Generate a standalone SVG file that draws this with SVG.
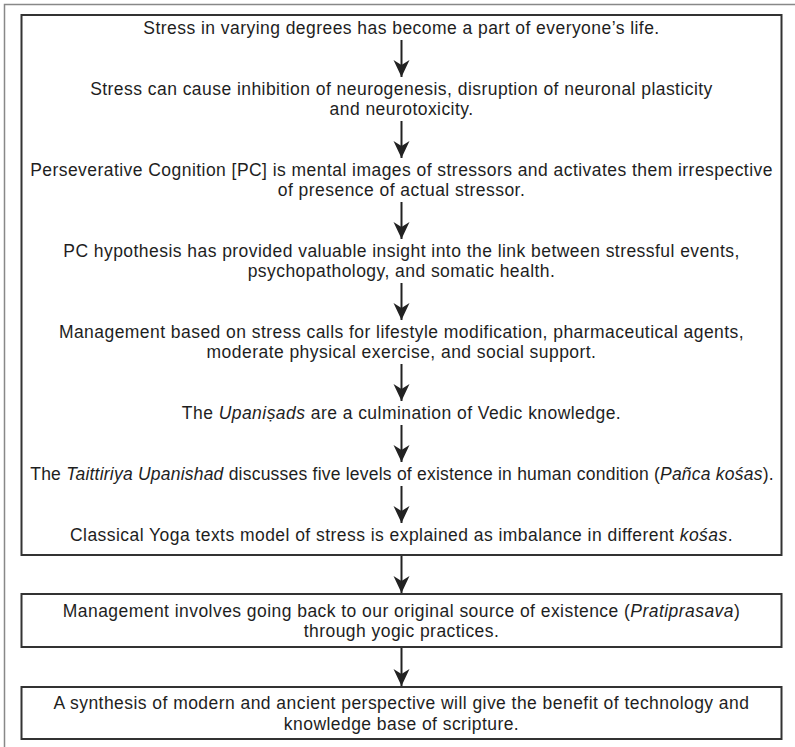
<svg xmlns="http://www.w3.org/2000/svg" width="795" height="747" viewBox="0 0 795 747">
<defs>
<style>
text{font-family:"Liberation Sans",Arial,sans-serif;font-size:17.5px;letter-spacing:0.45px;fill:#1e1e1e;text-anchor:middle}
.box{fill:#fff;stroke:#333;stroke-width:2}
.frame{fill:none;stroke:#888;stroke-width:1.5}
.arr{stroke:#222;stroke-width:2;fill:none;marker-end:url(#ah)}
.i{font-style:italic}
.tight{letter-spacing:0.22px}
</style>
<marker id="ah" markerUnits="userSpaceOnUse" viewBox="-18 -9 19 18" markerWidth="19" markerHeight="18" refX="0" refY="0" orient="auto">
<path d="M0,0 L-17,-8 L-12,0 L-17,8 Z" fill="#222"/>
</marker>
</defs>
<rect width="795" height="747" fill="#fff"/>
<rect class="frame" x="4.5" y="4.5" width="800" height="800"/>
<g id="main-box">
<rect class="box" x="21.5" y="15" width="760" height="540"/>
</g>
<g id="n1"><text x="401.5" y="34">Stress in varying degrees has become a part of everyone’s life.</text></g>
<g id="n2"><text x="401.5" y="95">Stress can cause inhibition of neurogenesis, disruption of neuronal plasticity</text><text x="401.5" y="115">and neurotoxicity.</text></g>
<g id="n3"><text x="401.5" y="176">Perseverative Cognition [PC] is mental images of stressors and activates them irrespective</text><text x="401.5" y="196">of presence of actual stressor.</text></g>
<g id="n4"><text x="401.5" y="257">PC hypothesis has provided valuable insight into the link between stressful events,</text><text x="401.5" y="277">psychopathology, and somatic health.</text></g>
<g id="n5"><text x="401.5" y="338">Management based on stress calls for lifestyle modification, pharmaceutical agents,</text><text x="401.5" y="358">moderate physical exercise, and social support.</text></g>
<g id="n6"><text x="401.5" y="419">The <tspan class="i">Upaniṣads</tspan> are a culmination of Vedic knowledge.</text></g>
<g id="n7"><text class="tight" x="402" y="480">The <tspan class="i">Taittiriya Upanishad</tspan> discusses five levels of existence in human condition (<tspan class="i">Pañca kośas</tspan>).</text></g>
<g id="n8"><text x="401.5" y="541">Classical Yoga texts model of stress is explained as imbalance in different <tspan class="i">kośas</tspan>.</text></g>
<g id="n9">
<rect class="box" x="21.5" y="594" width="760" height="53"/>
<text x="401.5" y="617">Management involves going back to our original source of existence (<tspan class="i">Pratiprasava</tspan>)</text>
<text x="401.5" y="637">through yogic practices.</text>
</g>
<g id="n10">
<rect class="box" x="21.5" y="687" width="760" height="52"/>
<text x="401.5" y="709">A synthesis of modern and ancient perspective will give the benefit of technology and</text>
<text x="401.5" y="730">knowledge base of scripture.</text>
</g>
<g id="connectors">
<line class="arr" x1="401.5" y1="40" x2="401.5" y2="77"/>
<line class="arr" x1="401.5" y1="121" x2="401.5" y2="158"/>
<line class="arr" x1="401.5" y1="202" x2="401.5" y2="239"/>
<line class="arr" x1="401.5" y1="283" x2="401.5" y2="320"/>
<line class="arr" x1="401.5" y1="364" x2="401.5" y2="401"/>
<line class="arr" x1="401.5" y1="425" x2="401.5" y2="462"/>
<line class="arr" x1="401.5" y1="486" x2="401.5" y2="523"/>
<line class="arr" x1="401.5" y1="556" x2="401.5" y2="593"/>
<line class="arr" x1="401.5" y1="648" x2="401.5" y2="686"/>
</g>
</svg>
